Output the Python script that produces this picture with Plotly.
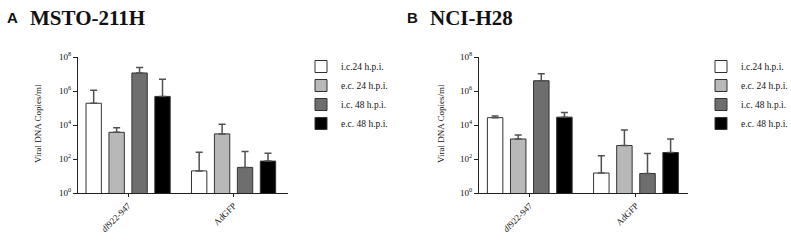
import plotly.graph_objects as go

W, H = 791, 242

categories = ["<i>dl</i>922-947", "AdGFP"]
series_names = ["i.c.24 h.p.i.", "e.c. 24 h.p.i.", "i.c. 48 h.p.i.", "e.c. 48 h.p.i."]
series_colors = ["#ffffff", "#b8b8b8", "#6e6e6e", "#000000"]

# Panel A: MSTO-211H (mean, upper SD)
A_ic24 = [1.9e5, 20]
A_ic24_sd = [9.1e5, 230]
A_ec24 = [3.7e3, 3.0e3]
A_ec24_sd = [3.3e3, 8.0e3]
A_ic48 = [1.15e7, 32]
A_ic48_sd = [1.25e7, 243]
A_ec48 = [4.8e5, 75]
A_ec48_sd = [4.4e6, 145]

# Panel B: NCI-H28
B_ic24 = [2.7e4, 15]
B_ic24_sd = [7.0e3, 139]
B_ec24 = [1.5e3, 620]
B_ec24_sd = [1.1e3, 4.5e3]
B_ic48 = [4.0e6, 14]
B_ic48_sd = [6.5e6, 196]
B_ec48 = [2.9e4, 240]
B_ec48_sd = [2.6e4, 1.26e3]

y_tickvals = [1, 1e2, 1e4, 1e6, 1e8]
y_ticktext = ["10<sup>0</sup>", "10<sup>2</sup>", "10<sup>4</sup>", "10<sup>6</sup>", "10<sup>8</sup>"]

panelA = [(A_ic24, A_ic24_sd), (A_ec24, A_ec24_sd), (A_ic48, A_ic48_sd), (A_ec48, A_ec48_sd)]
panelB = [(B_ic24, B_ic24_sd), (B_ec24, B_ec24_sd), (B_ic48, B_ic48_sd), (B_ec48, B_ec48_sd)]

SERIF = "Liberation Serif, Times New Roman, serif"
fig = go.Figure()

for panel, xa, ya, lg in [(panelA, "x", "y", "legend"), (panelB, "x2", "y2", "legend2")]:
    for (vals, sd), name, col in zip(panel, series_names, series_colors):
        fig.add_trace(go.Bar(
            x=categories, y=vals, name=name, xaxis=xa, yaxis=ya, legend=lg,
            marker=dict(color=col, line=dict(color="#333333", width=1)),
            error_y=dict(type="data", array=sd, arrayminus=[0] * len(sd), symmetric=False,
                         color="#505050", thickness=1.5, width=3.5),
        ))

xdomA = [78 / W, 288 / W]
xdomB = [479 / W, 688 / W]
ydom = [(H - 193) / H, (H - 57) / H]

axis_common_x = dict(
    showline=True, linecolor="#222222", linewidth=1, ticks="outside", ticklen=3,
    tickcolor="#222222", tickangle=-45, tickfont=dict(family=SERIF, size=9, color="#111"),
    showgrid=False, zeroline=False, automargin=False,
)
axis_common_y = dict(
    type="log", range=[0, 8], showline=True, linecolor="#222222", linewidth=1,
    ticks="outside", ticklen=4, tickcolor="#222222",
    tickvals=y_tickvals, ticktext=y_ticktext,
    tickfont=dict(family=SERIF, size=9, color="#111"),
    showgrid=False, zeroline=False, automargin=False,
)

legend_common = dict(
    font=dict(family=SERIF, size=9.5, color="#111"),
    bgcolor="rgba(0,0,0,0)", xanchor="left", yanchor="top",
    traceorder="normal", itemclick=False,
)

fig.update_layout(
    width=W, height=H,
    margin=dict(l=0, r=0, t=0, b=0, pad=0, autoexpand=False),
    paper_bgcolor="white", plot_bgcolor="white",
    barmode="group", bargap=0.13, bargroupgap=0.33,
    showlegend=True,
    xaxis=dict(domain=xdomA, anchor="y", range=[-0.475, 1.516], **axis_common_x),
    yaxis=dict(domain=ydom, anchor="x", **axis_common_y),
    xaxis2=dict(domain=xdomB, anchor="y2", range=[-0.478, 1.49], **axis_common_x),
    yaxis2=dict(domain=ydom, anchor="x2", **axis_common_y),
    legend=dict(x=301 / W, y=(H - 52) / H, **legend_common),
    legend2=dict(x=701 / W, y=(H - 52) / H, **legend_common),
    annotations=[
        dict(text="<b>A</b>", x=5 / W, y=(H - 18) / H, xref="paper", yref="paper",
             xanchor="left", yanchor="middle", showarrow=False,
             font=dict(family="Liberation Sans, Arial, sans-serif", size=15, color="#111")),
        dict(text="<b>MSTO-211H</b>", x=28 / W, y=(H - 18) / H, xref="paper", yref="paper",
             xanchor="left", yanchor="middle", showarrow=False,
             font=dict(family=SERIF, size=21, color="#111")),
        dict(text="<b>B</b>", x=405 / W, y=(H - 18) / H, xref="paper", yref="paper",
             xanchor="left", yanchor="middle", showarrow=False,
             font=dict(family="Liberation Sans, Arial, sans-serif", size=15, color="#111")),
        dict(text="<b>NCI-H28</b>", x=428 / W, y=(H - 18) / H, xref="paper", yref="paper",
             xanchor="left", yanchor="middle", showarrow=False,
             font=dict(family=SERIF, size=21, color="#111")),
        dict(text="Viral DNA Copies/ml", x=38 / W, y=(H - 124) / H, xref="paper", yref="paper",
             xanchor="center", yanchor="middle", showarrow=False, textangle=-90,
             font=dict(family=SERIF, size=9, color="#111")),
        dict(text="Viral DNA Copies/ml", x=441 / W, y=(H - 124) / H, xref="paper", yref="paper",
             xanchor="center", yanchor="middle", showarrow=False, textangle=-90,
             font=dict(family=SERIF, size=9, color="#111")),
    ],
)

fig.write_html(
    "out.html",
    config={"displayModeBar": False, "staticPlot": False},
    post_script="document.body.style.margin='0';document.body.style.overflow='hidden';",
)
